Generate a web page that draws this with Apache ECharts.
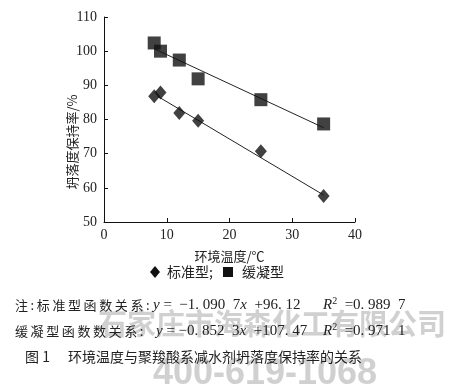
<!DOCTYPE html>
<html><head><meta charset="utf-8">
<script src="https://cdn.jsdelivr.net/npm/echarts@6/dist/echarts.min.js"></script>
<style>html,body{margin:0;padding:0;background:#fff}#c{width:458px;height:388px}</style>
</head><body><div id="c"></div>
<script>
var xTicks = [0, 10, 20, 30, 40];
var yTicks = [50, 60, 70, 80, 90, 100, 110];
var stdTemp = [8, 9, 12, 15, 25, 35];
var stdRate = [86.8, 87.9, 81.9, 79.6, 70.7, 57.6];
var retTemp = [8, 9, 12, 15, 25, 35];
var retRate = [102.4, 100.0, 97.4, 91.9, 85.8, 78.7];
var stdFitX = [8.5, 35];
var stdFitY = [86.85, 57.9];
var retFitX = [8, 35];
var retFitY = [100.7, 77.6];

var serif = '"Liberation Serif","Times New Roman",serif';
var cjk = '"Noto Sans CJK SC",sans-serif';
function pairs(a, b) { return a.map(function (v, i) { return [v, b[i]]; }); }
function sp(s, gap) { return s.split('').join(gap); }

var chart = echarts.init(document.getElementById('c'), null, {renderer: 'canvas'});
var axisCommon = {
  axisLine: {show: true, lineStyle: {color: '#111', width: 1}},
  axisTick: {show: true, inside: true, length: 4, lineStyle: {color: '#111'}},
  splitLine: {show: false},
  axisLabel: {color: '#222', fontFamily: serif, fontSize: 14}
};
var rich = {
  n: {fontFamily: serif, fontSize: 15, fill: '#222'},
  i: {fontFamily: serif, fontStyle: 'italic', fontSize: 15, fill: '#222'},
  s: {fontFamily: serif, fontSize: 10, fill: '#222', verticalAlign: 'top', padding: [0, 0, 7, 0]}
};
var cjkNote = {fontFamily: cjk, fontSize: 13, fill: '#222', verticalAlign: 'middle'};
chart.setOption({
  animation: false,
  grid: {left: 104, right: 103, top: 17, bottom: 166},
  xAxis: Object.assign({type: 'value', min: xTicks[0], max: xTicks[xTicks.length - 1], interval: 10,
    name: '环境温度/℃', nameLocation: 'middle', nameGap: 28,
    nameTextStyle: {fontFamily: cjk, fontSize: 13, color: '#222'}}, axisCommon,
    {axisLabel: Object.assign({}, axisCommon.axisLabel, {margin: 6})}),
  yAxis: Object.assign({type: 'value', min: yTicks[0], max: yTicks[yTicks.length - 1], interval: 10}, axisCommon,
    {axisLabel: Object.assign({}, axisCommon.axisLabel, {margin: 7})}),
  series: [
    {type: 'line', data: pairs(stdFitX, stdFitY), symbol: 'none', lineStyle: {color: '#222', width: 1}, z: 1},
    {type: 'line', data: pairs(retFitX, retFitY), symbol: 'none', lineStyle: {color: '#222', width: 1}, z: 1},
    {type: 'scatter', data: pairs(stdTemp, stdRate), symbol: 'diamond', symbolSize: [12, 14], itemStyle: {color: '#111'}, z: 3},
    {type: 'scatter', data: pairs(retTemp, retRate), symbol: 'rect', symbolSize: 13, itemStyle: {color: '#111'}, z: 3}
  ],
  graphic: [
    {type: 'text', x: 72, y: 142, rotation: Math.PI / 2, style: {text: '坍落度保持率/%', fontFamily: cjk, fontSize: 13, fill: '#222', align: 'center', verticalAlign: 'middle'}},
    {type: 'polygon', shape: {points: [[155, 266], [160, 272], [155, 278], [150, 272]]}, style: {fill: '#111'}},
    {type: 'text', x: 167, y: 272, style: {text: '标准型;', fontFamily: cjk, fontSize: 14, fill: '#222', verticalAlign: 'middle'}},
    {type: 'rect', shape: {x: 223, y: 267, width: 10, height: 10}, style: {fill: '#111'}},
    {type: 'text', x: 242, y: 272, style: {text: '缓凝型', fontFamily: cjk, fontSize: 14, fill: '#222', verticalAlign: 'middle'}},
    {type: 'text', x: 272, y: 324, z: 0, style: {text: '石家庄市海森化工有限公司', fontFamily: cjk, fontWeight: 'bold', fontSize: 29, fill: '#d0d0d0', align: 'center', verticalAlign: 'middle'}},
    {type: 'text', x: 265, y: 374, z: 0, style: {text: '400-619-1068', fontFamily: '"Liberation Sans",Arial,sans-serif', fontWeight: 'bold', fontSize: 36, fill: '#d0d0d0', align: 'center', verticalAlign: 'middle'}},
    {type: 'text', x: 15, y: 305, z: 10, style: Object.assign({text: sp('注:标准型函数关系:', '\u2009')}, cjkNote)},
    {type: 'text', x: 153, y: 305, z: 10, style: {text: '{i|y}{n| =  −1. 090  7}{i|x}{n|  +96. 12}', verticalAlign: 'middle', rich: rich}},
    {type: 'text', x: 323, y: 305, z: 10, style: {text: '{i|R}{s|2}{n|  =0. 989  7}', verticalAlign: 'middle', rich: rich}},
    {type: 'text', x: 15, y: 331, z: 10, style: Object.assign({text: sp('缓凝型函数数关系:', '\u2009')}, cjkNote)},
    {type: 'text', x: 156, y: 331, z: 10, style: {text: '{i|y}{n| = −0. 852  3}{i|x}{n|  +107. 47}', verticalAlign: 'middle', rich: rich}},
    {type: 'text', x: 323, y: 331, z: 10, style: {text: '{i|R}{s|2}{n|  =0. 971  1}', verticalAlign: 'middle', rich: rich}},
    {type: 'text', x: 25, y: 357, z: 10, style: {text: '图 1', fontFamily: cjk, fontSize: 14, fill: '#222', verticalAlign: 'middle'}},
    {type: 'text', x: 68, y: 357, z: 10, style: {text: '环境温度与聚羧酸系减水剂坍落度保持率的关系', fontFamily: cjk, fontSize: 14, fill: '#222', verticalAlign: 'middle'}}
  ]
});
</script></body></html>
